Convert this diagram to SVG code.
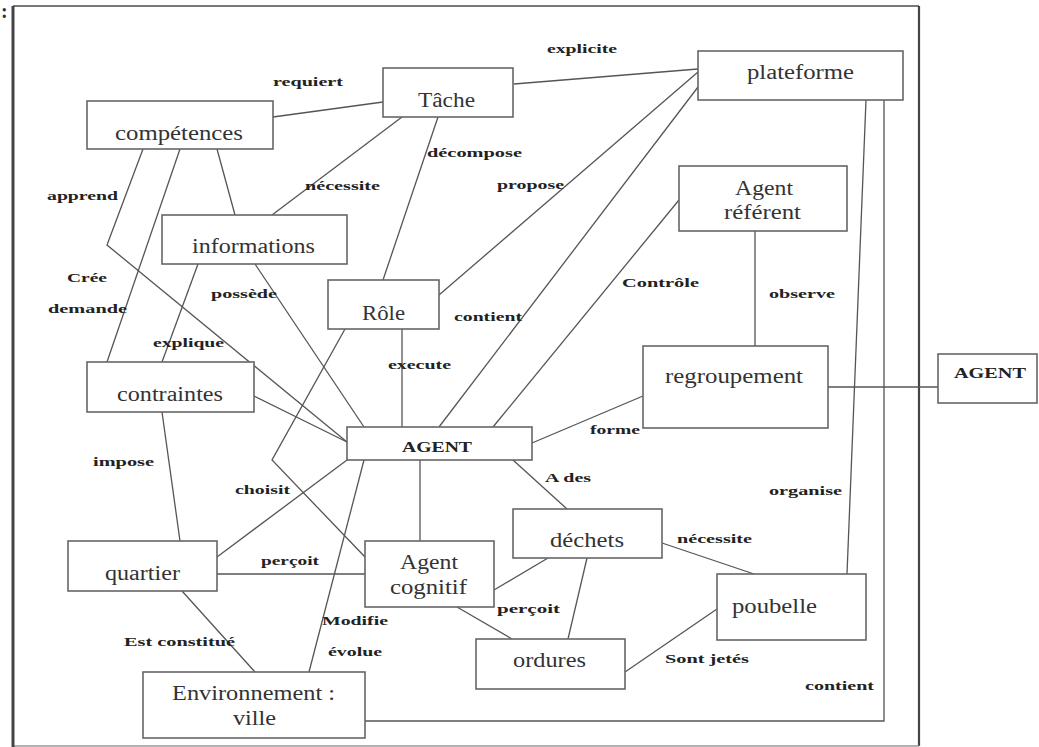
<svg xmlns="http://www.w3.org/2000/svg" width="1039" height="747" viewBox="0 0 1039 747">
<style>
.box{fill:#fff;stroke:#666;stroke-width:1.6}
.ln{fill:none;stroke:#555;stroke-width:1.3}
.nt{font-family:"Liberation Serif","Times New Roman",serif;font-size:20px;fill:#333}
.nb{font-family:"Liberation Serif","Times New Roman",serif;font-size:15px;font-weight:bold;fill:#222}
.lb{font-family:"Liberation Serif","Times New Roman",serif;font-size:13.5px;font-weight:bold;fill:#222}
</style>
<rect width="1039" height="747" fill="#fff"/>
<g id="frame">
<line x1="13" y1="6" x2="919" y2="6" stroke="#777" stroke-width="2"/>
<line x1="919" y1="6" x2="919" y2="746" stroke="#444" stroke-width="2.2"/>
<line x1="13" y1="746" x2="919" y2="746" stroke="#999" stroke-width="1.5"/>
<line x1="13" y1="6" x2="13" y2="747" stroke="#444" stroke-width="3"/>
<text x="1" y="18" font-family="Liberation Serif,serif" font-size="20" font-weight="bold" fill="#333">:</text>
</g>
<g id="connectors">
<line class="ln" x1="273" y1="117" x2="383" y2="102"/>
<line class="ln" x1="514" y1="84" x2="698" y2="69"/>
<line class="ln" x1="402" y1="117" x2="272" y2="215"/>
<line class="ln" x1="438" y1="117" x2="383" y2="280"/>
<polyline class="ln" points="143,149 107,245 347,442"/>
<line class="ln" x1="180" y1="149" x2="107" y2="362"/>
<line class="ln" x1="217" y1="149" x2="235" y2="215"/>
<line class="ln" x1="198" y1="264" x2="162" y2="362"/>
<line class="ln" x1="255" y1="264" x2="364" y2="427"/>
<line class="ln" x1="402" y1="329" x2="402" y2="427"/>
<polyline class="ln" points="345,329 272,460 365,557"/>
<line class="ln" x1="347" y1="460" x2="217" y2="557"/>
<line class="ln" x1="364" y1="460" x2="309" y2="672"/>
<line class="ln" x1="420" y1="460" x2="420" y2="541"/>
<line class="ln" x1="254" y1="396" x2="347" y2="442"/>
<line class="ln" x1="162" y1="412" x2="180" y2="541"/>
<line class="ln" x1="217" y1="574" x2="365" y2="574"/>
<line class="ln" x1="182" y1="591" x2="255" y2="672"/>
<line class="ln" x1="494" y1="590" x2="548" y2="558"/>
<line class="ln" x1="457" y1="607" x2="512" y2="639"/>
<line class="ln" x1="587" y1="558" x2="568" y2="639"/>
<line class="ln" x1="662" y1="543" x2="754" y2="574"/>
<line class="ln" x1="625" y1="672" x2="717" y2="609"/>
<line class="ln" x1="513" y1="460" x2="567" y2="509"/>
<line class="ln" x1="532" y1="443" x2="643" y2="396"/>
<line class="ln" x1="828" y1="387" x2="938" y2="387"/>
<line class="ln" x1="755" y1="231" x2="755" y2="346"/>
<line class="ln" x1="679" y1="200" x2="493" y2="427"/>
<line class="ln" x1="439" y1="295" x2="698" y2="72"/>
<line class="ln" x1="439" y1="427" x2="698" y2="87"/>
<line class="ln" x1="866" y1="100" x2="847" y2="574"/>
<polyline class="ln" points="884,100 884,721 365,721"/>
</g>
<g id="labels">
<text class="lb" x="273" y="86" textLength="70" lengthAdjust="spacingAndGlyphs">requiert</text>
<text class="lb" x="547" y="53" textLength="70" lengthAdjust="spacingAndGlyphs">explicite</text>
<text class="lb" x="47" y="200" textLength="71" lengthAdjust="spacingAndGlyphs">apprend</text>
<text class="lb" x="305" y="190" textLength="75" lengthAdjust="spacingAndGlyphs">nécessite</text>
<text class="lb" x="427" y="157" textLength="95" lengthAdjust="spacingAndGlyphs">décompose</text>
<text class="lb" x="497" y="189" textLength="67" lengthAdjust="spacingAndGlyphs">propose</text>
<text class="lb" x="67" y="282" textLength="40" lengthAdjust="spacingAndGlyphs">Crée</text>
<text class="lb" x="48" y="313" textLength="79" lengthAdjust="spacingAndGlyphs">demande</text>
<text class="lb" x="211" y="298" textLength="66" lengthAdjust="spacingAndGlyphs">possède</text>
<text class="lb" x="153" y="347" textLength="71" lengthAdjust="spacingAndGlyphs">explique</text>
<text class="lb" x="454" y="321" textLength="68" lengthAdjust="spacingAndGlyphs">contient</text>
<text class="lb" x="388" y="369" textLength="63" lengthAdjust="spacingAndGlyphs">execute</text>
<text class="lb" x="622" y="287" textLength="77" lengthAdjust="spacingAndGlyphs">Contrôle</text>
<text class="lb" x="769" y="298" textLength="66" lengthAdjust="spacingAndGlyphs">observe</text>
<text class="lb" x="590" y="434" textLength="50" lengthAdjust="spacingAndGlyphs">forme</text>
<text class="lb" x="545" y="482" textLength="46" lengthAdjust="spacingAndGlyphs">A des</text>
<text class="lb" x="93" y="466" textLength="61" lengthAdjust="spacingAndGlyphs">impose</text>
<text class="lb" x="235" y="494" textLength="55" lengthAdjust="spacingAndGlyphs">choisit</text>
<text class="lb" x="261" y="565" textLength="58" lengthAdjust="spacingAndGlyphs">perçoit</text>
<text class="lb" x="322" y="625" textLength="66" lengthAdjust="spacingAndGlyphs">Modifie</text>
<text class="lb" x="328" y="656" textLength="54" lengthAdjust="spacingAndGlyphs">évolue</text>
<text class="lb" x="124" y="646" textLength="111" lengthAdjust="spacingAndGlyphs">Est constitué</text>
<text class="lb" x="497" y="613" textLength="63" lengthAdjust="spacingAndGlyphs">perçoit</text>
<text class="lb" x="677" y="543" textLength="75" lengthAdjust="spacingAndGlyphs">nécessite</text>
<text class="lb" x="769" y="495" textLength="73" lengthAdjust="spacingAndGlyphs">organise</text>
<text class="lb" x="665" y="663" textLength="84" lengthAdjust="spacingAndGlyphs">Sont jetés</text>
<text class="lb" x="805" y="690" textLength="69" lengthAdjust="spacingAndGlyphs">contient</text>
</g>
<g id="tache"><rect class="box" x="383" y="68" width="130" height="49"/><text class="nt" x="418" y="107" textLength="57" lengthAdjust="spacingAndGlyphs">Tâche</text></g>
<g id="competences"><rect class="box" x="87" y="101" width="186" height="48"/><text class="nt" x="115" y="140" textLength="128" lengthAdjust="spacingAndGlyphs">compétences</text></g>
<g id="plateforme"><rect class="box" x="698" y="51" width="205" height="49"/><text class="nt" x="747" y="79" textLength="107" lengthAdjust="spacingAndGlyphs">plateforme</text></g>
<g id="agent-referent"><rect class="box" x="679" y="166" width="168" height="65"/><text class="nt" x="735" y="195" textLength="58" lengthAdjust="spacingAndGlyphs">Agent</text><text class="nt" x="724" y="219" textLength="77" lengthAdjust="spacingAndGlyphs">référent</text></g>
<g id="informations"><rect class="box" x="162" y="215" width="185" height="49"/><text class="nt" x="192" y="253" textLength="123" lengthAdjust="spacingAndGlyphs">informations</text></g>
<g id="role"><rect class="box" x="328" y="280" width="111" height="49"/><text class="nt" x="362" y="320" textLength="43" lengthAdjust="spacingAndGlyphs">Rôle</text></g>
<g id="contraintes"><rect class="box" x="87" y="362" width="167" height="50"/><text class="nt" x="117" y="401" textLength="106" lengthAdjust="spacingAndGlyphs">contraintes</text></g>
<g id="agent"><rect class="box" x="347" y="427" width="185" height="33"/><text class="nb" x="402" y="452" textLength="70" lengthAdjust="spacingAndGlyphs">AGENT</text></g>
<g id="regroupement"><rect class="box" x="643" y="346" width="185" height="82"/><text class="nt" x="665" y="383" textLength="138" lengthAdjust="spacingAndGlyphs">regroupement</text></g>
<g id="agent-externe"><rect class="box" x="938" y="354" width="99" height="49"/><text class="nb" x="954" y="378" textLength="72" lengthAdjust="spacingAndGlyphs">AGENT</text></g>
<g id="quartier"><rect class="box" x="68" y="541" width="149" height="50"/><text class="nt" x="105" y="580" textLength="75" lengthAdjust="spacingAndGlyphs">quartier</text></g>
<g id="agent-cognitif"><rect class="box" x="365" y="541" width="129" height="66"/><text class="nt" x="400" y="569" textLength="58" lengthAdjust="spacingAndGlyphs">Agent</text><text class="nt" x="390" y="594" textLength="77" lengthAdjust="spacingAndGlyphs">cognitif</text></g>
<g id="environnement"><rect class="box" x="143" y="672" width="222" height="66"/><text class="nt" x="172" y="700" textLength="163" lengthAdjust="spacingAndGlyphs">Environnement :</text><text class="nt" x="233" y="725" textLength="43" lengthAdjust="spacingAndGlyphs">ville</text></g>
<g id="dechets"><rect class="box" x="513" y="509" width="149" height="49"/><text class="nt" x="550" y="547" textLength="74" lengthAdjust="spacingAndGlyphs">déchets</text></g>
<g id="ordures"><rect class="box" x="476" y="639" width="149" height="50"/><text class="nt" x="513" y="667" textLength="73" lengthAdjust="spacingAndGlyphs">ordures</text></g>
<g id="poubelle"><rect class="box" x="717" y="574" width="149" height="66"/><text class="nt" x="732" y="613" textLength="85" lengthAdjust="spacingAndGlyphs">poubelle</text></g>
</svg>
